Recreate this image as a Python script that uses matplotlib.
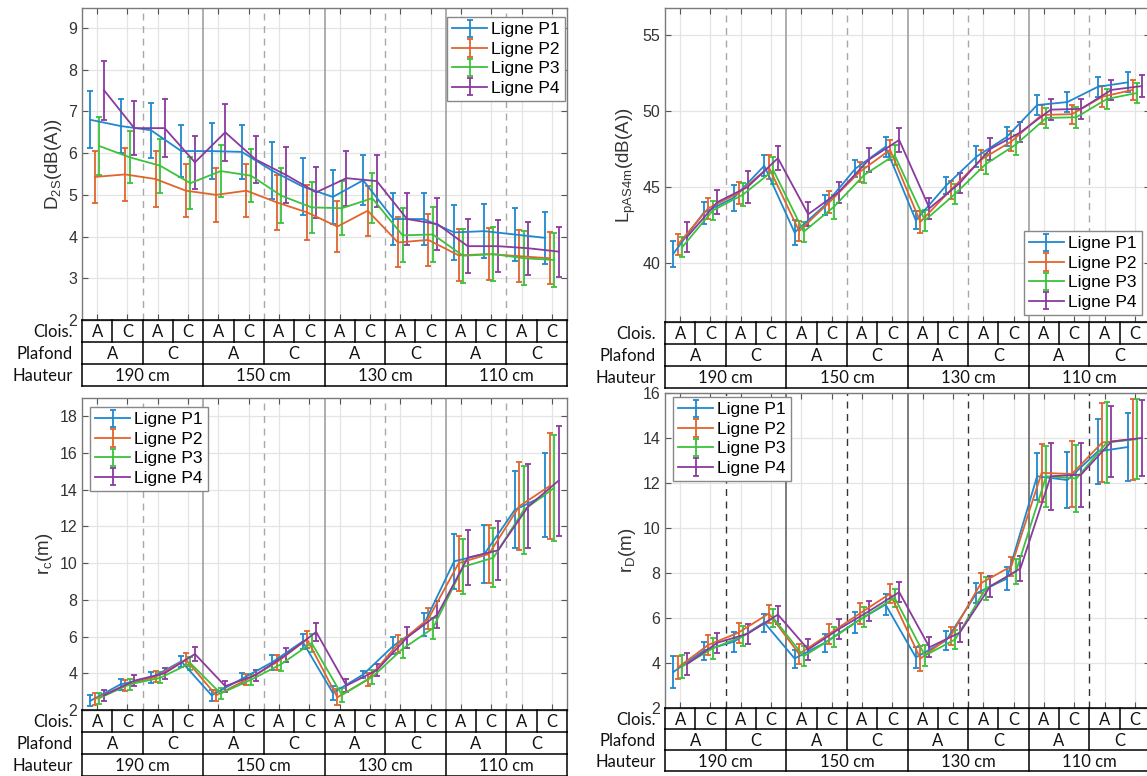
import numpy as np
import matplotlib.pyplot as plt

plt.rcParams['font.family'] = ['Liberation Sans', 'DejaVu Sans']
plt.rcParams['mathtext.fontset'] = 'custom'
plt.rcParams['mathtext.rm'] = 'Liberation Sans'

labels = ['Ligne P1', 'Ligne P2', 'Ligne P3', 'Ligne P4']
clois = ['A', 'C'] * 8
plafond = ['A', 'C'] * 4
hauteur = ['190 cm', '150 cm', '130 cm', '110 cm']

# D2S (dB(A))
d2s_p1 = [6.80, 6.65, 6.55, 6.05, 6.05, 6.03, 5.58, 5.20, 4.95, 5.35, 4.42, 4.42, 4.10, 4.13, 4.05, 3.97]
d2s_p2 = [5.43, 5.49, 5.38, 5.10, 5.00, 5.10, 4.82, 4.58, 4.24, 4.62, 3.86, 3.92, 3.55, 3.58, 3.53, 3.48]
d2s_p3 = [6.17, 5.90, 5.70, 5.28, 5.57, 5.46, 4.98, 4.70, 4.68, 4.92, 4.03, 4.05, 3.54, 3.58, 3.48, 3.44]
d2s_p4 = [7.51, 6.60, 6.60, 5.78, 6.50, 5.85, 5.48, 5.06, 5.40, 5.33, 4.42, 4.30, 3.77, 3.77, 3.72, 3.64]
d2s_e1 = [0.68, 0.65, 0.66, 0.63, 0.68, 0.64, 0.68, 0.68, 0.65, 0.60, 0.63, 0.63, 0.65, 0.65, 0.64, 0.63]
d2s_e2 = [0.63, 0.63, 0.66, 0.63, 0.64, 0.64, 0.66, 0.66, 0.62, 0.60, 0.60, 0.62, 0.62, 0.62, 0.62, 0.62]
d2s_e3 = [0.70, 0.62, 0.65, 0.63, 0.63, 0.63, 0.66, 0.62, 0.65, 0.60, 0.65, 0.65, 0.65, 0.65, 0.65, 0.65]
d2s_e4 = [0.71, 0.64, 0.70, 0.64, 0.68, 0.56, 0.67, 0.62, 0.66, 0.62, 0.62, 0.62, 0.64, 0.63, 0.63, 0.60]

# LpAS4m (dB(A))
lp_p1 = [40.6, 43.3, 44.3, 46.4, 42.0, 43.8, 46.2, 47.65, 42.8, 45.1, 47.0, 48.3, 50.4, 50.6, 51.6, 51.9]
lp_p2 = [41.2, 43.6, 44.6, 46.3, 42.1, 44.0, 46.0, 47.45, 42.7, 44.8, 46.8, 48.0, 49.75, 49.8, 50.95, 51.4]
lp_p3 = [41.05, 43.45, 44.5, 46.1, 42.05, 43.7, 45.8, 47.1, 42.8, 44.55, 46.5, 47.8, 49.55, 49.6, 50.8, 51.2]
lp_p4 = [41.7, 44.0, 45.0, 46.9, 43.2, 44.66, 46.8, 48.1, 43.6, 45.26, 47.5, 48.6, 50.1, 50.15, 51.4, 51.65]
lp_e1 = [0.87, 0.72, 0.85, 0.70, 0.80, 0.65, 0.55, 0.65, 0.60, 0.55, 0.68, 0.63, 0.65, 0.65, 0.66, 0.66]
lp_e2 = [0.70, 0.68, 0.73, 0.78, 0.69, 0.72, 0.68, 0.65, 0.72, 0.60, 0.66, 0.66, 0.63, 0.63, 0.68, 0.68]
lp_e3 = [0.67, 0.65, 0.74, 0.90, 0.65, 0.78, 0.55, 0.66, 0.70, 0.65, 0.66, 0.66, 0.66, 0.70, 0.65, 0.65]
lp_e4 = [1.00, 0.77, 1.05, 0.80, 0.78, 0.69, 0.78, 0.77, 0.68, 0.68, 0.73, 0.66, 0.68, 0.65, 0.66, 0.72]

# rc (m)
rc_p1 = [2.5, 3.4, 3.75, 4.65, 2.8, 3.7, 4.6, 5.73, 2.93, 3.93, 5.5, 6.66, 10.1, 10.5, 12.9, 13.7]
rc_p2 = [2.6, 3.35, 3.8, 4.75, 2.8, 3.65, 4.6, 5.85, 2.69, 3.67, 5.6, 6.97, 10.0, 10.5, 13.1, 14.2]
rc_p3 = [2.65, 3.4, 3.75, 4.55, 2.9, 3.65, 4.5, 5.65, 2.82, 3.8, 5.33, 6.45, 9.8, 10.3, 12.9, 14.1]
rc_p4 = [2.8, 3.6, 4.0, 5.05, 3.3, 3.9, 5.0, 6.25, 3.33, 4.17, 5.95, 7.2, 10.3, 10.7, 13.1, 14.5]
rc_e1 = [0.3, 0.3, 0.3, 0.3, 0.3, 0.3, 0.4, 0.43, 0.37, 0.2, 0.47, 0.63, 1.5, 1.6, 2.1, 2.3]
rc_e2 = [0.35, 0.3, 0.3, 0.35, 0.3, 0.3, 0.4, 0.45, 0.43, 0.37, 0.5, 0.58, 1.5, 1.6, 2.4, 2.9]
rc_e3 = [0.3, 0.3, 0.3, 0.35, 0.3, 0.3, 0.4, 0.5, 0.38, 0.4, 0.52, 0.56, 1.5, 1.6, 2.4, 2.9]
rc_e4 = [0.3, 0.3, 0.3, 0.4, 0.3, 0.3, 0.4, 0.5, 0.35, 0.32, 0.55, 0.75, 1.5, 1.6, 2.3, 3.0]

# rD (m)
rd_p1 = [3.6, 4.55, 4.95, 5.8, 4.2, 4.9, 5.8, 6.6, 4.25, 5.0, 7.1, 7.75, 12.3, 12.13, 13.4, 13.6]
rd_p2 = [3.8, 4.8, 5.35, 6.2, 4.4, 5.3, 6.2, 7.08, 4.2, 5.2, 7.55, 8.3, 12.45, 12.4, 13.8, 13.95]
rd_p3 = [3.85, 4.65, 5.2, 6.0, 4.3, 5.15, 6.05, 6.9, 4.33, 5.05, 7.3, 8.05, 12.3, 12.2, 13.8, 13.95]
rd_p4 = [3.95, 4.9, 5.3, 6.15, 4.6, 5.5, 6.3, 7.15, 4.7, 5.35, 7.4, 8.2, 12.3, 12.37, 13.84, 14.0]
rd_e1 = [0.7, 0.4, 0.45, 0.4, 0.4, 0.4, 0.45, 0.45, 0.47, 0.42, 0.45, 0.5, 1.05, 1.26, 1.46, 1.52]
rd_e2 = [0.5, 0.45, 0.45, 0.4, 0.45, 0.45, 0.45, 0.43, 0.55, 0.39, 0.45, 0.43, 1.3, 1.45, 1.74, 1.8]
rd_e3 = [0.5, 0.45, 0.45, 0.4, 0.45, 0.45, 0.45, 0.41, 0.47, 0.41, 0.52, 0.56, 1.35, 1.48, 1.78, 1.78]
rd_e4 = [0.5, 0.45, 0.45, 0.4, 0.45, 0.45, 0.45, 0.43, 0.45, 0.42, 0.48, 0.57, 1.48, 1.42, 1.58, 1.7]

colors = ['#1f88cf', '#e0652c', '#3cc23c', '#8a3a9e']
offsets = [-0.225, -0.075, 0.075, 0.225]
positions = np.arange(1, 17)

W, H = 1147, 776
fig = plt.figure(figsize=(W / 100, H / 100), dpi=100)


def px_axes(x0, y0, x1, y1):
    return fig.add_axes([x0 / W, 1 - y1 / H, (x1 - x0) / W, (y1 - y0) / H])


def draw_panel(box, series, errs, ylim, yticks, ylabel, leg_loc, leg_anchor, dark=False):
    x0, y0, x1, y1 = box
    ax = px_axes(x0, y0, x1, y1)
    for k in range(4):
        ax.errorbar(positions + offsets[k], series[k], yerr=errs[k], color=colors[k],
                    lw=1.3, elinewidth=1.3, capsize=2.5, capthick=1.3, label=labels[k], zorder=3)
    dash_col = '#333333' if dark else '#a8a8a8'
    solid_col = '#666666' if dark else '#a0a0a0'
    for xv in [2.5, 6.5, 10.5, 14.5]:
        ax.axvline(xv, color=dash_col, lw=1.0, ls=(0, (5, 4)), zorder=2)
    for xv in [4.5, 8.5, 12.5]:
        ax.axvline(xv, color=solid_col, lw=1.2, zorder=2)
    ax.set_xlim(0.5, 16.5)
    ax.set_ylim(*ylim)
    ax.set_xticks(positions)
    ax.set_xticklabels([])
    ax.set_yticks(yticks)
    ax.grid(True, color='#e4e4e4', lw=0.9)
    ax.set_axisbelow(True)
    ax.tick_params(direction='in', top=True, right=True, length=4, width=0.8,
                   color='#555555', labelsize=11.5, labelcolor='#333333')
    for sp in ax.spines.values():
        sp.set_color('#7a7a7a')
        sp.set_linewidth(1.0)
    ax.set_ylabel(ylabel, fontsize=13.5, color='#333333', labelpad=3)
    leg = ax.legend(loc=leg_loc, bbox_to_anchor=leg_anchor, borderaxespad=0, fontsize=12.5,
                    fancybox=False, framealpha=1, edgecolor='#888888', handlelength=2.0,
                    handletextpad=0.25, borderpad=0.3, labelspacing=0.25)
    leg.get_frame().set_linewidth(1.0)
    return ax


def draw_table(x0, y0, x1, row_h):
    tab = px_axes(x0, y0, x1, y0 + 3 * row_h)
    tab.set_xlim(0.5, 16.5)
    tab.set_ylim(0, 3)
    tab.axis('off')
    kw = dict(color='black', lw=1.1, clip_on=False)
    for yv in [0, 1, 2, 3]:
        tab.plot([0.5, 16.5], [yv, yv], **kw)
    for xv in np.arange(0.5, 17, 1.0):
        tab.plot([xv, xv], [2, 3], **kw)
    for xv in np.arange(0.5, 17, 2.0):
        tab.plot([xv, xv], [1, 2], **kw)
    for xv in np.arange(0.5, 17, 4.0):
        tab.plot([xv, xv], [0, 1], **kw)
    tf = dict(family=['Lato', 'DejaVu Sans'], fontsize=12, color='#111111', ha='center', va='center')
    for i, t in enumerate(clois):
        tab.text(i + 1, 2.45, t, **tf)
    for i, t in enumerate(plafond):
        tab.text(2 * i + 1.5, 1.45, t, **tf)
    for i, t in enumerate(hauteur):
        tab.text(4 * i + 2.5, 0.45, t, **tf)
    for yv, t in zip([2.45, 1.45, 0.45], ['Clois.', 'Plafond', 'Hauteur']):
        tab.annotate(t, xy=(0.5, yv), xytext=(-9, 0), textcoords='offset pixels',
                     ha='right', va='center', family=['Lato', 'DejaVu Sans'],
                     fontsize=12, color='#111111', annotation_clip=False)


draw_panel((82, 8, 567, 320), [d2s_p1, d2s_p2, d2s_p3, d2s_p4], [d2s_e1, d2s_e2, d2s_e3, d2s_e4],
           (2, 9.48), np.arange(2, 10), r'$\mathregular{D_{2S}}$(dB(A))', 'upper right', (0.996, 0.971))
draw_table(82, 320, 567, 22)

draw_panel((665, 8, 1150, 322), [lp_p1, lp_p2, lp_p3, lp_p4], [lp_e1, lp_e2, lp_e3, lp_e4],
           (36.1, 56.8), [40, 45, 50, 55], r'$\mathregular{L_{pAS4m}}$(dB(A))', 'lower right', (0.9835, 0.022))
draw_table(665, 322, 1150, 22)

draw_panel((82, 398, 567, 710), [rc_p1, rc_p2, rc_p3, rc_p4], [rc_e1, rc_e2, rc_e3, rc_e4],
           (2, 19), np.arange(2, 19, 2), r'$\mathregular{r_c}$(m)', 'upper left', (0.0165, 0.971))
draw_table(82, 710, 567, 22)

draw_panel((665, 393, 1150, 708), [rd_p1, rd_p2, rd_p3, rd_p4], [rd_e1, rd_e2, rd_e3, rd_e4],
           (2, 16), np.arange(2, 17, 2), r'$\mathregular{r_D}$(m)', 'upper left', (0.0165, 0.987), dark=True)
draw_table(665, 708, 1150, 21)

fig.savefig('out.png', dpi=100)
